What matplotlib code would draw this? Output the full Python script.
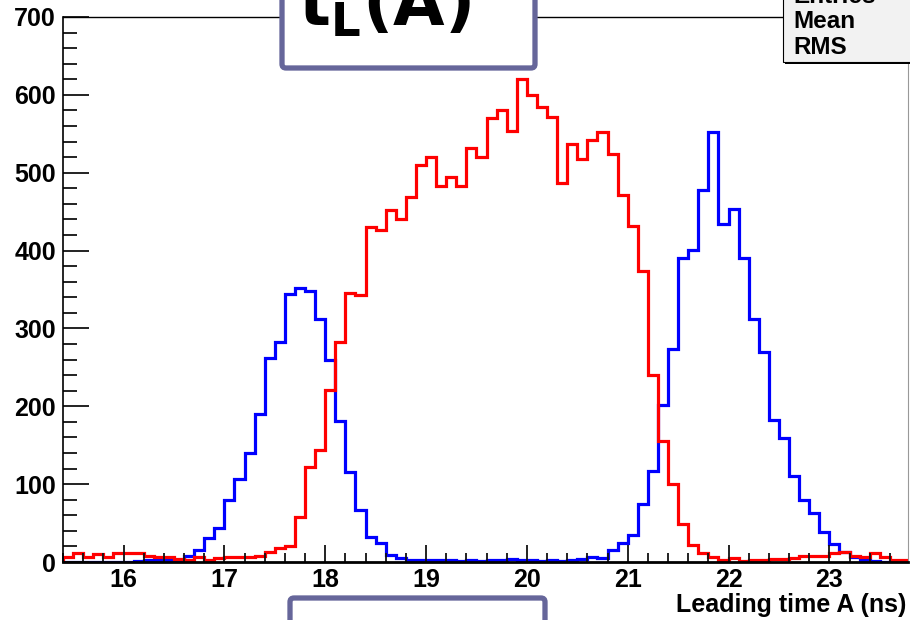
import numpy as np
import matplotlib.pyplot as plt
from matplotlib.patches import FancyBboxPatch, Rectangle
from matplotlib.ticker import MultipleLocator
from matplotlib.transforms import IdentityTransform

plt.rcParams['font.family'] = ['Liberation Sans', 'DejaVu Sans']
plt.rcParams['mathtext.fontset'] = 'dejavusans'

# histogram binning (ns)
bin_start = 15.4
bin_width = 0.1

# counts per 0.1 ns bin, from 15.4 ns to 23.8 ns
red_counts = [6, 12, 6, 10, 7, 11, 12, 12, 8, 7,
              6, 4, 3, 6, 3, 5, 7, 6, 6, 8,
              13, 18, 21, 58, 122, 144, 221, 282, 345, 343,
              430, 427, 452, 440, 469, 510, 520, 483, 495, 483,
              532, 520, 570, 580, 554, 621, 600, 584, 571, 487,
              537, 517, 542, 552, 524, 472, 431, 374, 240, 155,
              100, 49, 22, 12, 7, 3, 5, 1, 3, 3,
              4, 4, 5, 8, 8, 8, 11, 13, 8, 7,
              12, 7, 3, 3]
blue_counts = [0, 0, 0, 0, 0, 0, 0, 1, 2, 2,
               2, 3, 8, 15, 31, 44, 80, 107, 140, 190,
               262, 282, 344, 352, 348, 312, 259, 181, 116, 67,
               32, 25, 9, 5, 3, 3, 3, 2, 2, 1,
               2, 1, 2, 3, 4, 2, 2, 1, 2, 1,
               3, 4, 6, 5, 16, 25, 35, 75, 117, 202,
               274, 390, 401, 478, 552, 434, 454, 390, 312, 270,
               183, 159, 110, 79, 63, 39, 23, 13, 7, 3,
               1, 0, 0, 0]

x_label = 'Leading time A (ns)'
title = r'$\mathbf{t_{L}(A)}$'
stats_rows = ['Entries', 'Mean', 'RMS']

edges = np.round(bin_start + bin_width * np.arange(len(red_counts) + 1), 2)

W, H = 910, 620
fig = plt.figure(figsize=(W / 100, H / 100), dpi=100)
ax = fig.add_axes([63 / W, 1 - 562 / H, (908 - 63) / W, (562 - 17) / H])

ax.stairs(blue_counts, edges, color='#0000ff', lw=2.3)
ax.stairs(red_counts, edges, color='#ff0000', lw=2.3)

ax.set_xlim(15.4, 23.78)
ax.set_ylim(0, 700)
ax.xaxis.set_major_locator(MultipleLocator(1))
ax.xaxis.set_minor_locator(MultipleLocator(0.2))
ax.yaxis.set_major_locator(MultipleLocator(100))
ax.yaxis.set_minor_locator(MultipleLocator(20))
ax.tick_params(which='both', direction='in', top=False, right=False, width=1.3, color='#111111')
ax.tick_params(axis='y', which='major', length=19, pad=5)
ax.tick_params(axis='y', which='minor', length=10)
ax.tick_params(axis='x', which='major', length=12, pad=4)
ax.tick_params(axis='x', which='minor', length=6.5)
for lab in ax.get_xticklabels() + ax.get_yticklabels():
    lab.set_fontsize(18)
    lab.set_fontweight('bold')

ax.spines['bottom'].set_linewidth(2)
ax.spines['left'].set_linewidth(1.2)
ax.spines['top'].set_linewidth(1)
ax.spines['right'].set_linewidth(0.8)
ax.spines['right'].set_color('#999999')

fig.text(906 / W, 1 - 612 / H, x_label, ha='right', va='baseline',
         fontsize=18, fontweight='bold')

# stats box (cut off at the top right)
px = IdentityTransform()
fig.add_artist(Rectangle((785, H - 64), 140, 80, transform=px,
                         facecolor='black', edgecolor='none'))
fig.add_artist(Rectangle((783, H - 62), 140, 80, transform=px,
                         facecolor='#f2f2f2', edgecolor='black', lw=0.8))
for i, row in enumerate(stats_rows):
    fig.text(793 / W, 1 - (-4 + 25.5 * i) / H, row, ha='left', va='center',
             fontsize=17.5, fontweight='bold')

# overlay boxes
fig.add_artist(FancyBboxPatch((282, H - 68), 253, 100, transform=px,
                              boxstyle='round,pad=0,rounding_size=4',
                              facecolor='white', edgecolor='#66669a', lw=3.8))
fig.add_artist(FancyBboxPatch((290, -40), 255, H - 598 + 40, transform=px,
                              boxstyle='round,pad=0,rounding_size=4',
                              facecolor='white', edgecolor='#66669a', lw=3.8))
fig.text(298 / W, 1 - 26 / H, title, ha='left', va='baseline', fontsize=48)

fig.savefig('out.png', dpi=100)
